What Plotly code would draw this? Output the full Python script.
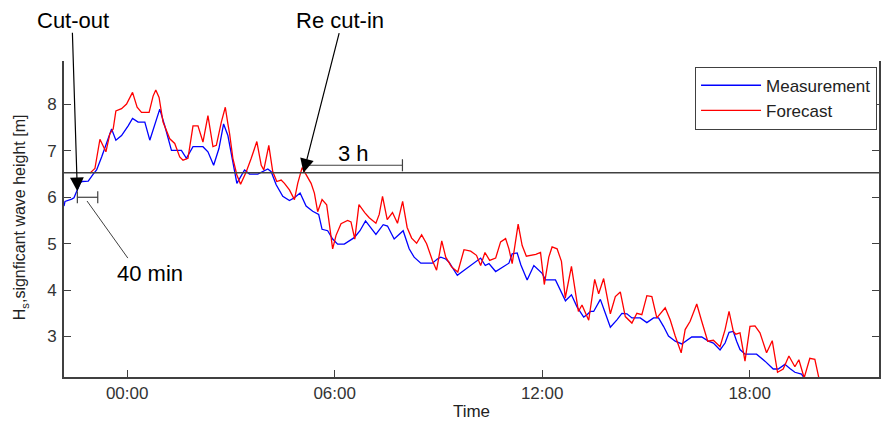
import plotly.graph_objects as go

# ---------------- data (time in hours relative to 00:00, Hs in m) ----------------
meas_time = [-1.826, -1.797, -1.604, -1.537, -1.459, -1.364, -1.315, -1.125, -0.981, -0.883,
             -0.738, -0.594, -0.450, -0.326, -0.162, 0.029, 0.156, 0.317, 0.511, 0.655,
             0.799, 0.943, 1.087, 1.183, 1.281, 1.569, 1.713, 1.904, 2.192, 2.336,
             2.501, 2.654, 2.789, 2.913, 3.057, 3.173, 3.395, 3.539, 3.778, 3.923,
             4.067, 4.165, 4.309, 4.500, 4.693, 4.837, 5.001, 5.174, 5.365, 5.538,
             5.636, 5.798, 5.942, 6.086, 6.279, 6.567, 6.732, 6.893, 7.049, 7.193,
             7.404, 7.528, 7.721, 7.981, 8.154, 8.298, 8.491, 8.826, 8.970, 9.068,
             9.212, 9.308, 9.547, 9.885, 10.222, 10.355, 10.462, 10.655, 11.039, 11.133,
             11.278, 11.385, 11.566, 11.760, 12.000, 12.097, 12.385, 12.674, 12.847, 13.008,
             13.201, 13.297, 13.395, 13.490, 13.683, 13.827, 13.972, 14.162, 14.306, 14.451,
             14.595, 14.837, 15.028, 15.221, 15.365, 15.509, 15.653, 15.847, 16.037, 16.325,
             16.614, 16.807, 16.951, 17.144, 17.289, 17.404, 17.528, 17.623, 17.721, 17.865,
             18.200, 18.442, 18.682, 18.826, 19.019, 19.163, 19.308, 19.498, 19.576]
meas_hs = [5.81, 5.91, 5.96, 5.99, 6.13, 6.30, 6.34, 6.35, 6.50, 6.59,
           6.87, 7.16, 7.47, 7.23, 7.33, 7.54, 7.70, 7.62, 7.62, 7.23,
           7.58, 7.90, 7.54, 7.30, 7.01, 7.01, 6.84, 7.09, 7.09, 6.98,
           6.69, 7.05, 7.58, 7.33, 6.73, 6.30, 6.59, 6.50, 6.50, 6.55,
           6.61, 6.55, 6.27, 6.02, 5.93, 5.99, 6.09, 5.81, 5.70, 5.63,
           5.31, 5.28, 5.10, 4.99, 4.99, 5.13, 5.28, 5.49, 5.35, 5.20,
           5.41, 5.38, 5.10, 5.28, 4.89, 4.71, 4.58, 4.58, 4.67, 4.71,
           4.67, 4.60, 4.32, 4.50, 4.69, 4.53, 4.57, 4.40, 4.58, 4.78,
           4.80, 4.54, 4.22, 4.53, 4.36, 4.22, 4.22, 3.77, 3.90, 3.64,
           3.42, 3.47, 3.54, 3.54, 3.80, 3.50, 3.20, 3.36, 3.50, 3.49,
           3.40, 3.40, 3.30, 3.40, 3.40, 3.22, 3.01, 2.90, 2.84, 2.99,
           2.99, 2.90, 2.86, 2.71, 2.86, 3.09, 3.11, 2.90, 2.72, 2.62,
           2.62, 2.47, 2.30, 2.30, 2.40, 2.31, 2.23, 2.19, 2.11]

fcst_time = [-1.076, -0.932, -0.787, -0.692, -0.614, -0.499, -0.404, -0.326, -0.162, -0.017,
             0.156, 0.288, 0.415, 0.635, 0.750, 0.828, 0.923, 1.038, 1.232, 1.376,
             1.520, 1.615, 1.759, 1.904, 2.048, 2.192, 2.336, 2.481, 2.579, 2.723,
             2.838, 2.913, 2.962, 3.057, 3.173, 3.280, 3.444, 3.588, 3.750, 3.877,
             3.952, 4.096, 4.211, 4.327, 4.453, 4.549, 4.693, 4.837, 4.932, 5.059,
             5.174, 5.319, 5.414, 5.509, 5.636, 5.769, 5.847, 5.942, 6.040, 6.184,
             6.374, 6.472, 6.582, 6.703, 6.870, 7.000, 7.193, 7.289, 7.384, 7.520,
             7.672, 7.817, 7.966, 8.096, 8.226, 8.370, 8.515, 8.659, 8.826, 8.947,
             9.097, 9.212, 9.380, 9.561, 9.740, 9.934, 10.101, 10.222, 10.346, 10.482,
             10.655, 10.799, 10.943, 11.039, 11.133, 11.232, 11.306, 11.422, 11.543, 11.817,
             11.953, 12.062, 12.192, 12.287, 12.432, 12.558, 12.668, 12.847, 12.956, 13.048,
             13.152, 13.251, 13.346, 13.519, 13.634, 13.778, 13.972, 14.116, 14.260, 14.404,
             14.595, 14.739, 14.883, 15.028, 15.172, 15.316, 15.558, 15.702, 15.847, 16.020,
             16.135, 16.279, 16.470, 16.614, 16.787, 16.951, 17.144, 17.289, 17.404, 17.528,
             17.600, 17.721, 17.865, 18.009, 18.154, 18.298, 18.489, 18.653, 18.806, 18.970,
             19.135, 19.308, 19.423, 19.576, 19.740, 19.885, 20.009]
fcst_hs = [6.52, 6.62, 7.25, 7.12, 6.98, 7.37, 7.47, 7.86, 7.91, 8.01,
           8.26, 7.94, 7.83, 7.83, 8.18, 8.31, 8.15, 7.62, 7.26, 7.16,
           6.87, 6.80, 6.84, 7.54, 7.54, 7.19, 7.76, 7.09, 7.12, 7.62,
           7.94, 7.58, 7.37, 6.84, 6.48, 6.28, 6.55, 6.84, 7.20, 6.69,
           6.59, 7.12, 6.55, 6.34, 6.37, 6.30, 6.16, 5.95, 6.30, 6.64,
           6.48, 6.30, 6.09, 5.69, 5.95, 5.84, 5.42, 4.89, 5.18, 5.43,
           5.50, 5.47, 5.10, 5.84, 5.67, 5.56, 5.44, 5.63, 6.02, 5.52,
           5.67, 5.44, 5.91, 5.35, 5.12, 5.01, 5.19, 5.00, 4.64, 4.43,
           5.06, 4.71, 4.50, 4.39, 4.87, 4.84, 4.75, 4.53, 4.81, 4.64,
           4.69, 5.04, 5.11, 4.89, 4.57, 5.03, 5.42, 4.96, 4.73, 4.77,
           4.81, 4.12, 4.71, 4.93, 4.89, 4.62, 3.83, 4.51, 4.03, 3.54,
           3.68, 3.49, 3.35, 4.23, 3.92, 4.25, 3.49, 3.86, 3.96, 3.43,
           3.29, 3.50, 3.47, 3.88, 3.86, 3.40, 3.62, 3.36, 3.01, 2.65,
           3.15, 3.33, 3.70, 3.33, 2.90, 2.92, 2.78, 3.15, 3.54, 3.11,
           3.05, 3.08, 2.47, 3.22, 3.23, 3.08, 2.65, 2.91, 2.23, 2.30,
           2.58, 2.35, 2.50, 2.11, 2.53, 2.51, 2.08]

series_names = ["Measurement", "Forecast"]
series_colors = ["#0000ff", "#ff0000"]
tick_hours = [0, 6, 12, 18]
tick_labels = ["00:00", "06:00", "12:00", "18:00"]
y_ticks = [3, 4, 5, 6, 7, 8]

cut_in_level = 6.53          # cut-in threshold line [m]
cutout_time, cutout_hs = -1.44, 6.13
delay_end = -0.85             # 40 min delay bracket end
recut_time = 5.10
window_end = 7.96             # 3 h window end
window_level = 6.69

x_range = [-1.826, 21.74]
y_range = [2.128, 8.936]

FONT = "Liberation Sans, Arial, sans-serif"
AX = "#404040"

fig = go.Figure()
fig.add_trace(go.Scatter(x=meas_time, y=meas_hs, mode="lines", name=series_names[0],
                         line=dict(color=series_colors[0], width=1.3)))
fig.add_trace(go.Scatter(x=fcst_time, y=fcst_hs, mode="lines", name=series_names[1],
                         line=dict(color=series_colors[1], width=1.3)))

# threshold line
fig.add_shape(type="line", xref="x", yref="y", x0=x_range[0], x1=x_range[1],
              y0=cut_in_level, y1=cut_in_level, line=dict(color=AX, width=1.6))

# 40 min bracket
cap = 0.13
fig.add_shape(type="line", x0=cutout_time, x1=delay_end, y0=6.0, y1=6.0, line=dict(color=AX, width=1.2))
fig.add_shape(type="line", x0=cutout_time, x1=cutout_time, y0=6.0 - cap, y1=6.0 + cap, line=dict(color=AX, width=1.2))
fig.add_shape(type="line", x0=delay_end, x1=delay_end, y0=6.0 - cap, y1=6.0 + cap, line=dict(color=AX, width=1.2))
fig.add_shape(type="line", x0=-1.16, x1=0.02, y0=5.92, y1=4.69, line=dict(color=AX, width=1))

# 3 h bracket
fig.add_shape(type="line", x0=recut_time, x1=window_end, y0=window_level, y1=window_level,
              line=dict(color=AX, width=1.2))
fig.add_shape(type="line", x0=window_end, x1=window_end, y0=window_level - cap, y1=window_level + cap,
              line=dict(color=AX, width=1.2))

txt = dict(size=22, color="black", family=FONT)
# arrows
fig.add_annotation(x=cutout_time, y=cutout_hs, ax=-5, ay=-160, text="", showarrow=True,
                   arrowhead=2, arrowsize=2.3, arrowwidth=1.2, arrowcolor="black")
fig.add_annotation(x=recut_time, y=cut_in_level, ax=36, ay=-141, text="", showarrow=True,
                   arrowhead=2, arrowsize=2.3, arrowwidth=1.2, arrowcolor="black")
# texts above the plot area (paper coordinates)
fig.add_annotation(xref="paper", yref="paper", x=0.0112, y=1.128, xanchor="center", yanchor="middle",
                   text="Cut-out", showarrow=False, font=txt)
fig.add_annotation(xref="paper", yref="paper", x=0.339, y=1.128, xanchor="center", yanchor="middle",
                   text="Re cut-in", showarrow=False, font=txt)
fig.add_annotation(x=0.66, y=4.35, text="40 min", showarrow=False, font=txt)
fig.add_annotation(x=6.54, y=6.94, text="3 h", showarrow=False, font=txt)

# y-axis title
fig.add_annotation(xref="paper", yref="paper", x=-0.053, y=0.505, xanchor="center", yanchor="middle",
                   textangle=-90,
                   text="H<sub>s</sub>,signficant wave height [m]", showarrow=False,
                   font=dict(size=16, color="#222", family=FONT))

fig.update_layout(
    width=881, height=421,
    margin=dict(l=64, r=0, t=61, b=40),
    paper_bgcolor="white", plot_bgcolor="white",
    font=dict(family=FONT, color="#333"),
    showlegend=True,
    legend=dict(x=0.9976, y=0.982, xanchor="right", yanchor="top",
                bgcolor="white", bordercolor=AX, borderwidth=1, itemwidth=60,
                font=dict(size=17, color="#222", family=FONT)),
    xaxis=dict(range=x_range, tickvals=tick_hours, ticktext=tick_labels,
               showgrid=False, zeroline=False, showline=True, linecolor=AX, linewidth=1.6,
               ticks="inside", ticklen=7, tickcolor=AX, tickwidth=1.2,
               tickfont=dict(size=17, color="#333"),
               title=dict(text="Time", font=dict(size=17, color="#222"), standoff=6)),
    xaxis2=dict(range=[x_range[0] + 0.21, x_range[1] + 0.21], overlaying="x", side="top",
                anchor="y", tickvals=tick_hours, showticklabels=False,
                showgrid=False, zeroline=False, showline=True, linecolor=AX, linewidth=1.6,
                ticks="inside", ticklen=7, tickcolor=AX, tickwidth=1.2),
    yaxis=dict(range=y_range, tickvals=y_ticks, showgrid=False, zeroline=False,
               showline=True, linecolor=AX, linewidth=1.6, mirror="ticks",
               ticks="inside", ticklen=7, tickcolor=AX, tickwidth=1.2,
               ticklabelstandoff=2,
               tickfont=dict(size=17, color="#333")),
)

fig.write_html("out.html")
